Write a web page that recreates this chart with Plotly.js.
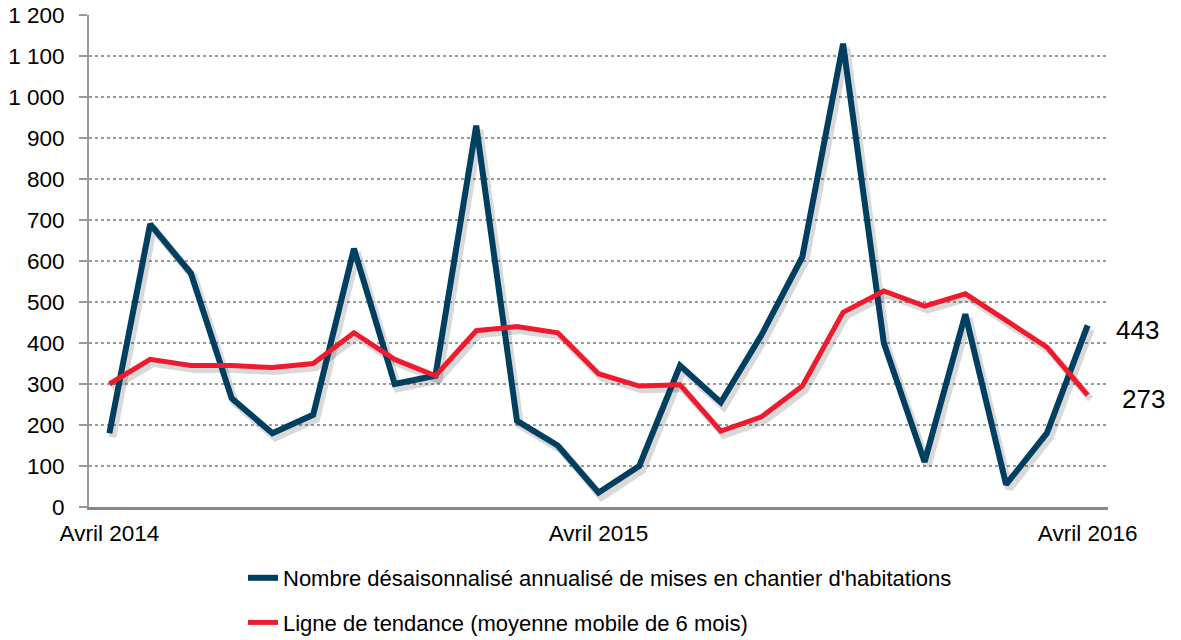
<!DOCTYPE html>
<html>
<head>
<meta charset="utf-8">
<script src="https://cdn.plot.ly/plotly-3.0.1.min.js"></script>
<style>html,body{margin:0;padding:0;background:#fff;}#chart{width:1181px;height:640px;}</style>
</head>
<body>
<div id="chart"></div>
<script>
const months = [
  "Avril 2014","Mai 2014","Juin 2014","Juillet 2014","Août 2014","Septembre 2014",
  "Octobre 2014","Novembre 2014","Décembre 2014","Janvier 2015","Février 2015","Mars 2015",
  "Avril 2015","Mai 2015","Juin 2015","Juillet 2015","Août 2015","Septembre 2015",
  "Octobre 2015","Novembre 2015","Décembre 2015","Janvier 2016","Février 2016","Mars 2016",
  "Avril 2016"
];
const mises = [180,690,570,265,180,225,630,300,320,930,210,150,35,100,345,255,420,610,1130,400,110,470,55,180,443];
const tendance = [300,360,345,345,340,350,425,360,320,430,440,425,325,295,298,185,220,295,475,527,490,520,455,390,273];
const tickLabels = ["Avril 2014","Avril 2015","Avril 2016"];
const seriesNames = [
  "Nombre désaisonnalisé annualisé de mises en chantier d'habitations",
  "Ligne de tendance (moyenne mobile de 6 mois)"
];

const W = 1181, H = 640;
const M = {l: 89, r: 73, t: 15, b: 133, autoexpand: false};
const plotW = W - M.l - M.r, plotH = H - M.t - M.b;
const xRange = [-0.5, months.length - 0.5];
const yRange = [0, 1200];
// shadow offset in pixels, converted to axis-range offsets
const sdx = 3, sdy = 4;
const ux = sdx * (xRange[1] - xRange[0]) / plotW;
const uy = sdy * (yRange[1] - yRange[0]) / plotH;

const BLUE = "#003F60", RED = "#EE1B2E";
const FONT = "Liberation Sans, Arial, sans-serif";

const traces = [
  {x: months, y: mises, type: "scatter", mode: "lines", xaxis: "x", yaxis: "y",
   line: {color: "rgba(0,0,0,0.15)", width: 8}, showlegend: false, hoverinfo: "skip"},
  {x: months, y: tendance, type: "scatter", mode: "lines", xaxis: "x", yaxis: "y",
   line: {color: "rgba(0,0,0,0.15)", width: 7}, showlegend: false, hoverinfo: "skip"},
  {x: months, y: mises, type: "scatter", mode: "lines", xaxis: "x2", yaxis: "y2",
   name: seriesNames[0], legendgroup: "a", line: {color: BLUE, width: 6}},
  {x: months, y: tendance, type: "scatter", mode: "lines", xaxis: "x2", yaxis: "y2",
   name: seriesNames[1], legendgroup: "b", line: {color: RED, width: 5}}
];

const layout = {
  width: W, height: H,
  margin: M,
  paper_bgcolor: "#fff", plot_bgcolor: "rgba(0,0,0,0)",
  font: {family: FONT, color: "#000", size: 22},
  separators: ", ",
  showlegend: true,
  xaxis: {type: "category", categoryarray: months, range: [xRange[0] - ux, xRange[1] - ux],
          visible: false, fixedrange: true},
  yaxis: {range: [yRange[0] + uy, yRange[1] + uy], visible: false, fixedrange: true},
  xaxis2: {type: "category", categoryarray: months, overlaying: "x", anchor: "y2",
           range: xRange, tickmode: "array", tickvals: [months[0], months[12], months[24]],
           ticktext: tickLabels, showgrid: false, zeroline: false,
           showline: true, linecolor: "#888", linewidth: 2.5, ticks: "",
           tickfont: {size: 22.5, family: FONT, color: "#000"}, ticklabelstandoff: 4},
  yaxis2: {overlaying: "y", anchor: "x2", range: yRange, dtick: 100, tickformat: ",d",
           showgrid: true, gridcolor: "#999", griddash: "dot", gridwidth: 1.5,
           zeroline: false, showline: true, linecolor: "#999", linewidth: 2,
           ticks: "outside", ticklen: 8, tickcolor: "#999", tickwidth: 2,
           ticklabelstandoff: 10, tickfont: {size: 22.5, family: FONT, color: "#000"}},
  legend: {orientation: "v", x: (243 - M.l) / plotW, xanchor: "left",
           y: -(557 - (H - M.b)) / plotH, yanchor: "top",
           font: {size: 22, family: FONT, color: "#000"}, tracegroupgap: 13,
           bgcolor: "rgba(0,0,0,0)"},
  annotations: [
    {x: months[months.length - 1], y: mises[mises.length - 1], xref: "x2", yref: "y2",
     text: String(mises[mises.length - 1]), showarrow: false, xanchor: "left",
     xshift: 26, yshift: -5, font: {size: 26, family: FONT, color: "#000"}},
    {x: months[months.length - 1], y: tendance[tendance.length - 1], xref: "x2", yref: "y2",
     text: String(tendance[tendance.length - 1]), showarrow: false, xanchor: "left",
     xshift: 32, yshift: -4, font: {size: 26, family: FONT, color: "#000"}}
  ]
};

Plotly.newPlot("chart", traces, layout, {displayModeBar: false, staticPlot: true});
</script>
</body>
</html>
